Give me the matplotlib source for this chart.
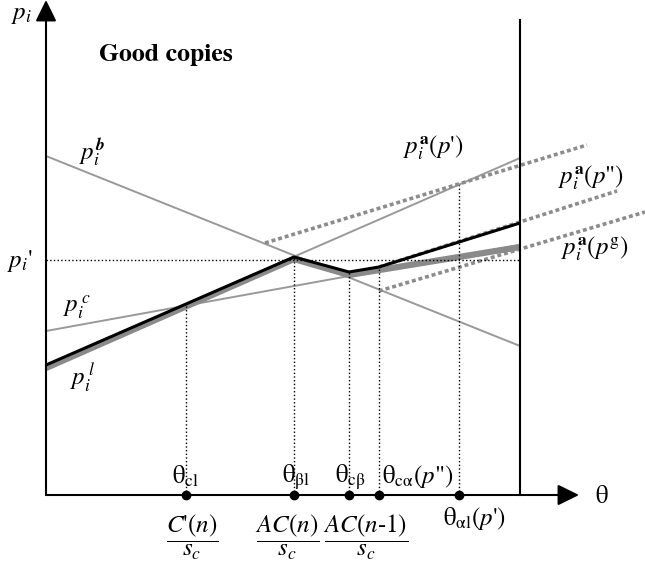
import matplotlib.pyplot as plt

plt.rcParams['mathtext.fontset'] = 'stix'
plt.rcParams['font.family'] = ['STIXGeneral', 'Liberation Serif', 'DejaVu Serif']

# schematic values (theta on x, price on y)
theta_max = 4.74
p_prime = 2.35

theta_cl = 1.40
theta_bl = 2.48
theta_cb = 3.03
theta_ca = 3.33
theta_al = 4.13
theta_marks = [theta_cl, theta_bl, theta_cb, theta_ca, theta_al]
mark_tops = [1.90, 2.38, 2.23, 2.28, 3.10]

# straight price lines: (theta endpoints, price endpoints)
pb_theta = [0, theta_max]
pb_price = [3.39, 1.49]
pc_theta = [0, theta_max]
pc_price = [1.64, 2.50]
pl_theta = [0, theta_max]
pl_price = [1.30, 3.37]

# envelope of the price lines
black_theta = [0, theta_bl, theta_cb, theta_ca, theta_max]
black_price = [1.30, 2.38, 2.23, 2.28, 2.72]
gray_theta = [0, theta_bl, theta_cb, theta_max]
gray_price = [1.27, 2.36, 2.20, 2.48]

# dotted p_i^a lines
pa1_theta = [2.19, 5.41]
pa1_price = [2.52, 3.50]
pa2_theta = [theta_ca, 5.71]
pa2_price = [2.28, 3.04]
pa3_theta = [theta_ca, 5.99]
pa3_price = [2.04, 2.83]

fig = plt.figure(figsize=(6.45, 5.65), dpi=100)
ax = fig.add_axes([0, 0, 1, 1])
ax.set_xlim(-0.46, 5.99)
ax.set_ylim(-0.70, 4.95)
ax.axis('off')

gray = '#999999'
dgray = '#8c8c8c'

# thin gray lines
ax.plot(pb_theta, pb_price, color=gray, lw=1.4)
ax.plot(pc_theta, pc_price, color=gray, lw=1.4)
ax.plot(pl_theta, pl_price, color=gray, lw=1.4)

# dotted gray lines
dot = (0, (1.1, 0.8))
ax.plot(pa1_theta, pa1_price, color=dgray, lw=2.6, ls=dot)
ax.plot(pa2_theta, pa2_price, color=dgray, lw=2.6, ls=dot)
ax.plot(pa3_theta, pa3_price, color=dgray, lw=2.6, ls=dot)

# envelopes
ax.plot(gray_theta, gray_price, color='#8a8a8a', lw=4.5, solid_capstyle='butt')
ax.plot(black_theta, black_price, color='black', lw=2.2, solid_capstyle='butt')

# reference lines
ax.plot([0, theta_max], [p_prime, p_prime], color='black', lw=1, ls=':')
for t, top in zip(theta_marks, mark_tops):
    ax.plot([t, t], [0, top], color='black', lw=1, ls=':')

# axes and boundary
ax.plot([theta_max, theta_max], [0, 4.75], color='black', lw=1.5)
arrow = dict(arrowstyle='-|>,head_length=0.65,head_width=0.32',
             lw=1.5, color='black', mutation_scale=20, shrinkA=0, shrinkB=0)
ax.annotate('', xy=(5.33, 0), xytext=(0, 0), arrowprops=arrow)
ax.annotate('', xy=(0, 4.95), xytext=(0, 0), arrowprops=arrow)
ax.plot(theta_marks, [0] * len(theta_marks), 'o', color='black', ms=6, clip_on=False)

fs = 18
ax.text(1.20, 4.40, 'Good copies', fontsize=18.5, fontweight='bold', ha='center', va='center')
ax.text(-0.24, 4.81, r'$p_i$', fontsize=fs, ha='center', va='center')
ax.text(0.46, 3.43, r'$p_i^{\mathbfit{b}}$', fontsize=fs, ha='center', va='center')
ax.text(3.87, 3.47, r"$p_i^{\mathbf{a}}(p$'$)$", fontsize=fs, ha='center', va='center')
ax.text(5.45, 3.17, r'$p_i^{\mathbf{a}}(p$"$)$', fontsize=fs, ha='center', va='center')
ax.text(5.49, 2.46, r"$p_i^{\mathbf{a}}(p^{\mathrm{g}})$", fontsize=fs, ha='center', va='center')
ax.text(-0.26, 2.34, r"$p_i$'", fontsize=fs, ha='center', va='center')
ax.text(0.31, 1.88, r'$p_i^{\,c}$', fontsize=fs, ha='center', va='center')
ax.text(0.37, 1.17, r'$p_i^{\,l}$', fontsize=fs, ha='center', va='center')

ax.text(theta_cl, 0.18, r'$\mathrm{\theta}_{\mathrm{cl}}$', fontsize=fs, ha='center', va='center')
ax.text(theta_bl + 0.02, 0.18, r'$\mathrm{\theta}_{\mathrm{\beta l}}$', fontsize=fs, ha='center', va='center')
ax.text(theta_cb + 0.01, 0.18, r'$\mathrm{\theta}_{\mathrm{c\beta}}$', fontsize=fs, ha='center', va='center')
ax.text(3.36, 0.18, r'$\mathrm{\theta}_{\mathrm{c\alpha}}(p$"$)$', fontsize=fs, ha='left', va='center')
ax.text(theta_al + 0.15, -0.23, r"$\mathrm{\theta}_{\mathrm{\alpha l}}(p$'$)$", fontsize=fs, ha='center', va='center')
ax.text(5.56, -0.02, r'$\mathrm{\theta}$', fontsize=fs, ha='center', va='center')

ax.text(1.46, -0.42, r"$\dfrac{C\text{'}(n)}{s_c}$", fontsize=fs, ha='center', va='center')
ax.text(2.41, -0.42, r"$\dfrac{AC(n)}{s_c}$", fontsize=fs, ha='center', va='center')
ax.text(3.20, -0.42, r"$\dfrac{AC(n\text{-}1)}{s_c}$", fontsize=fs, ha='center', va='center')

fig.savefig('out.png', dpi=100)
